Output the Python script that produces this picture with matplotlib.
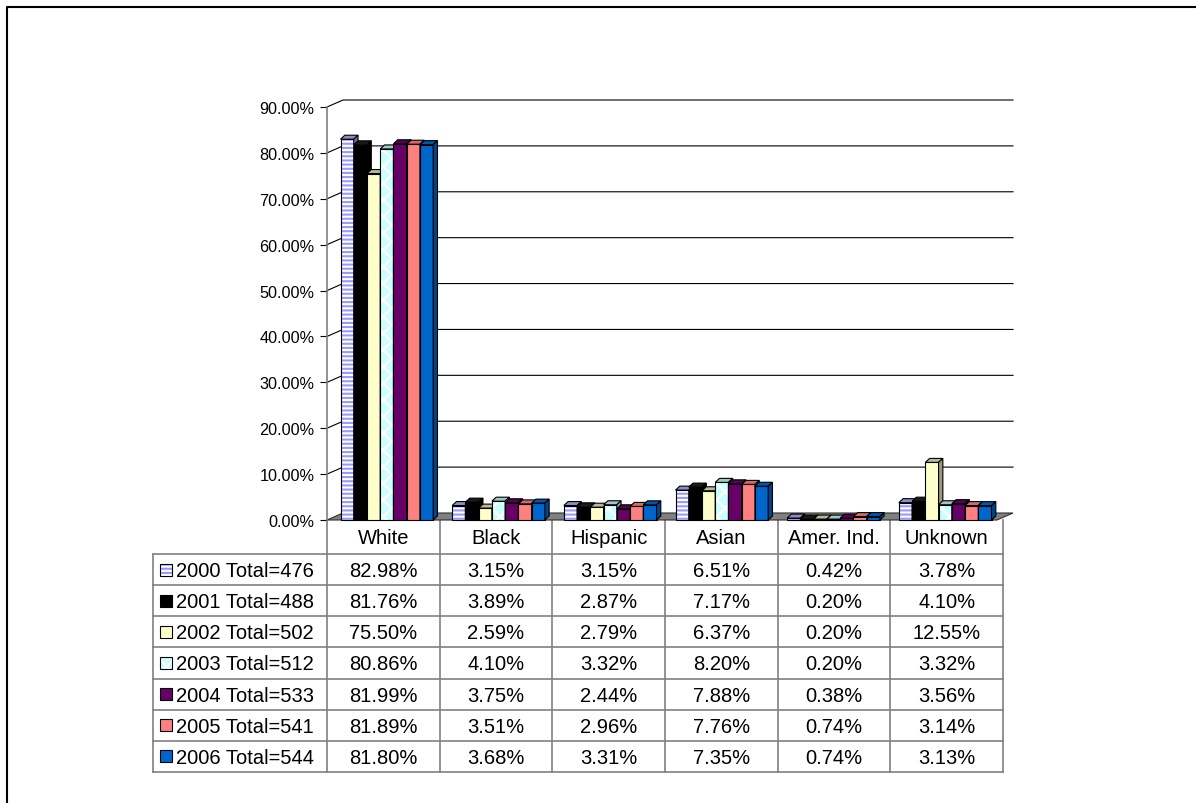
import matplotlib
matplotlib.use('Agg')
import matplotlib.pyplot as plt
from matplotlib.patches import Rectangle, Polygon
from matplotlib.lines import Line2D

plt.rcParams['font.family'] = ['Liberation Sans', 'DejaVu Sans']
plt.rcParams['hatch.linewidth'] = 1.5

# ---------------- data ----------------
categories = ['White', 'Black', 'Hispanic', 'Asian', 'Amer. Ind.', 'Unknown']
series_labels = ['2000 Total=476', '2001 Total=488', '2002 Total=502', '2003 Total=512',
                 '2004 Total=533', '2005 Total=541', '2006 Total=544']
v2000 = [82.98, 3.15, 3.15, 6.51, 0.42, 3.78]
v2001 = [81.76, 3.89, 2.87, 7.17, 0.20, 4.10]
v2002 = [75.50, 2.59, 2.79, 6.37, 0.20, 12.55]
v2003 = [80.86, 4.10, 3.32, 8.20, 0.20, 3.32]
v2004 = [81.99, 3.75, 2.44, 7.88, 0.38, 3.56]
v2005 = [81.89, 3.51, 2.96, 7.76, 0.74, 3.14]
v2006 = [81.80, 3.68, 3.31, 7.35, 0.74, 3.13]
yticks = [0, 10, 20, 30, 40, 50, 60, 70, 80, 90]

series = [v2000, v2001, v2002, v2003, v2004, v2005, v2006]

# ---------------- styles ----------------
styles = [
    dict(face='white', hatch='----', hcolor='#9999FF', top='#8C8CC8', side='#6E6EA8'),
    dict(face='black', hatch=None, hcolor=None, top='#1A1A1A', side='#000000'),
    dict(face='#FFFFCC', hatch=None, hcolor=None, top='#B8B894', side='#99997A'),
    dict(face='#CCFFFF', hatch='xx', hcolor='white', top='#A0C8C8', side='#86A8A8'),
    dict(face='#660066', hatch=None, hcolor=None, top='#550055', side='#400040'),
    dict(face='#FF8080', hatch=None, hcolor=None, top='#D06A6A', side='#B05858'),
    dict(face='#0066CC', hatch=None, hcolor=None, top='#0055AA', side='#004488'),
]

W, H = 1196, 804
fig = plt.figure(figsize=(W / 100, H / 100), dpi=100)

# pixel-coordinate overlay for frame and table
pax = fig.add_axes([0, 0, 1, 1], zorder=0)
pax.set_xlim(0, W)
pax.set_ylim(H, 0)
pax.axis('off')

# outer frame
pax.add_line(Line2D([7, 7, W + 5], [H + 5, 8, 8], color='black', lw=1.5))

# ---------------- plot area ----------------
x_left, x_right = 327, 997
y_bot, y_top = 521, 108
ax = fig.add_axes([x_left / W, 1 - y_bot / H, (x_right - x_left) / W, (y_bot - y_top) / H], zorder=2)
ax.set_xlim(0, 6)
ax.set_ylim(0, 90)
ax.patch.set_visible(False)
for s in ['top', 'right', 'bottom']:
    ax.spines[s].set_visible(False)
ax.spines['left'].set_color('#808080')
ax.spines['left'].set_linewidth(1.2)
ax.set_xticks([])
ax.set_yticks(yticks)
ax.set_yticklabels([f'{v:.2f}%' for v in yticks])
ax.tick_params(axis='y', direction='out', length=5, width=0.8, color='black',
               pad=4, labelsize=11.7)

px_per_cat = (x_right - x_left) / 6
px_per_pct = (y_bot - y_top) / 90
dxb = 16 / px_per_cat
dyb = 7 / px_per_pct

# back wall gridlines + left wall diagonals
for v in yticks[1:]:
    ax.plot([0, dxb, 6 + dxb], [v, v + dyb, v + dyb], color='black', lw=0.8,
            clip_on=False, zorder=1)
# floor
ax.add_patch(Polygon([(0, 0), (6, 0), (6 + dxb, dyb), (dxb, dyb)], closed=True,
                     facecolor='#808080', edgecolor='#303030', lw=0.8,
                     clip_on=False, zorder=2))

# bars
bw = 13.24 / px_per_cat
off = 13.5 / px_per_cat
ddx = 4.3 / px_per_cat
ddy = 4.0 / px_per_pct
for j, (vals, st) in enumerate(zip(series, styles)):
    xs = [i + off + j * bw for i in range(len(categories))]
    if st['hatch']:
        ax.bar(xs, vals, width=bw, align='edge', color=st['face'], edgecolor=st['hcolor'],
               hatch=st['hatch'], linewidth=0, zorder=3, clip_on=False)
        ax.bar(xs, vals, width=bw, align='edge', fill=False, edgecolor='black',
               linewidth=0.8, zorder=3, clip_on=False)
    else:
        ax.bar(xs, vals, width=bw, align='edge', color=st['face'], edgecolor='black',
               linewidth=0.8, zorder=3, clip_on=False)
    for x0, h in zip(xs, vals):
        top = Polygon([(x0, h), (x0 + bw, h), (x0 + bw + ddx, h + ddy), (x0 + ddx, h + ddy)],
                      closed=True, facecolor=st['top'], edgecolor='black', lw=0.8,
                      zorder=3, clip_on=False)
        side = Polygon([(x0 + bw, 0), (x0 + bw + ddx, ddy), (x0 + bw + ddx, h + ddy), (x0 + bw, h)],
                       closed=True, facecolor=st['side'], edgecolor='black', lw=0.8,
                       zorder=3, clip_on=False)
        ax.add_patch(top)
        ax.add_patch(side)

# ---------------- data table ----------------
tcol_left = 327
tcol_right = 1003
lab_left = 153
col_w = (tcol_right - tcol_left) / 6
head_top = 521
row_top = 555
row_h = (773 - row_top) / 7
gcol = '#808080'
tlw = 1.2

col_edges = [tcol_left + k * col_w for k in range(7)]
row_edges = [row_top + r * row_h for r in range(8)]

for r, y in enumerate(row_edges):
    pax.add_line(Line2D([lab_left, tcol_right], [y, y], color=gcol, lw=tlw))
pax.add_line(Line2D([lab_left, lab_left], [row_top, row_edges[-1]], color=gcol, lw=tlw))
for k, x in enumerate(col_edges):
    pax.add_line(Line2D([x, x], [head_top, row_edges[-1]], color=gcol, lw=tlw))

fs = 14.5
for k, cat in enumerate(categories):
    cx = col_edges[k] + col_w / 2
    pax.text(cx, (head_top + row_top) / 2 + 1, cat, ha='center', va='center', fontsize=fs)
    for r, vals in enumerate(series):
        cy = row_edges[r] + row_h / 2 + 1
        pax.text(cx, cy, f'{vals[k]:.2f}%', ha='center', va='center', fontsize=fs)

for r, (lab, st) in enumerate(zip(series_labels, styles)):
    cy = row_edges[r] + row_h / 2
    if st['hatch']:
        pax.add_patch(Rectangle((160, cy - 6), 12, 12, facecolor=st['face'], edgecolor=st['hcolor'],
                                hatch=st['hatch'], lw=0))
        pax.add_patch(Rectangle((160, cy - 6), 12, 12, fill=False, edgecolor='black', lw=0.8))
    else:
        pax.add_patch(Rectangle((160, cy - 6), 12, 12, facecolor=st['face'], edgecolor='black', lw=0.8))
    pax.text(176, cy + 1, lab, ha='left', va='center', fontsize=fs)

fig.savefig('out.png', dpi=100)
